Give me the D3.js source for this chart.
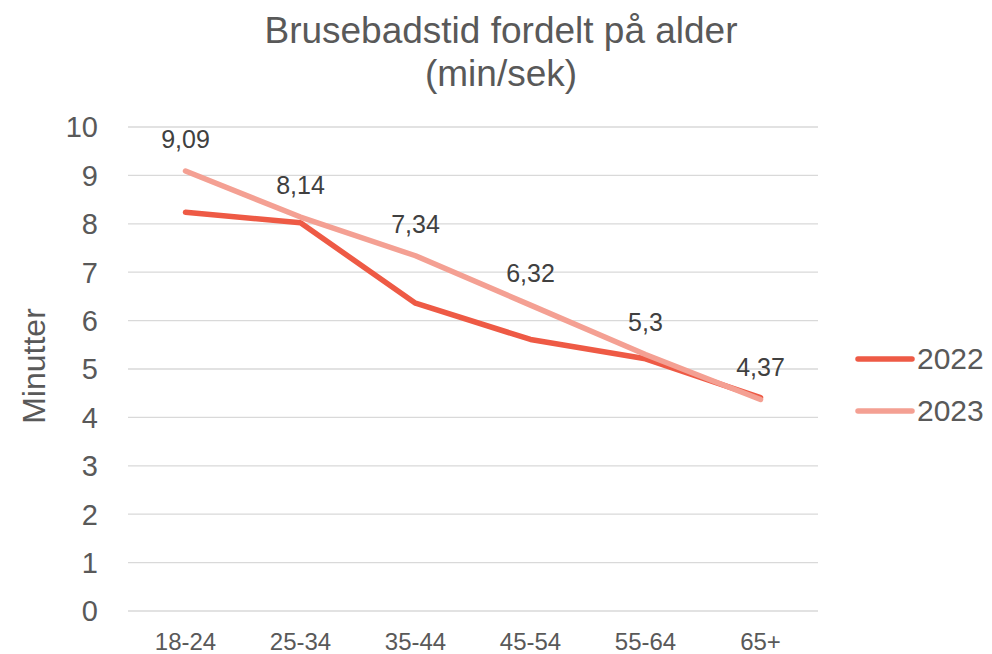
<!DOCTYPE html>
<html>
<head>
<meta charset="utf-8">
<script src="https://cdn.jsdelivr.net/npm/d3@7"></script>
<style>
  body { margin: 0; background: #fff; }
  text { font-family: "Liberation Sans", Arial, sans-serif; }
</style>
</head>
<body>
<svg width="992" height="654"></svg>
<script>
const categories = ["18-24", "25-34", "35-44", "45-54", "55-64", "65+"];
const values2022 = [8.24, 8.02, 6.36, 5.61, 5.21, 4.41];
const values2023 = [9.09, 8.14, 7.34, 6.32, 5.3, 4.37];
const yTicks = [0, 1, 2, 3, 4, 5, 6, 7, 8, 9, 10];

const series = [
  { name: "2022", values: values2022, color: "#EE5A45" },
  { name: "2023", values: values2023, color: "#F4A093" }
];

const svg = d3.select("svg");
const margin = { top: 127, right: 174, bottom: 43, left: 128 };
const w = +svg.attr("width") - margin.left - margin.right;
const h = +svg.attr("height") - margin.top - margin.bottom;

const g = svg.append("g")
  .attr("transform", `translate(${margin.left}, ${margin.top})`);

const x = d3.scalePoint()
  .domain(categories)
  .range([0, w])
  .padding(0.5);

const y = d3.scaleLinear()
  .domain([0, 10])
  .range([h, 0]);

// gridlines
g.append("g")
  .selectAll("line")
  .data(yTicks)
  .join("line")
    .attr("x1", 0)
    .attr("x2", w)
    .attr("y1", d => y(d))
    .attr("y2", d => y(d))
    .attr("stroke", "#d9d9d9")
    .attr("stroke-width", 1.3);

// y tick labels
g.append("g")
  .selectAll("text")
  .data(yTicks)
  .join("text")
    .attr("x", -30)
    .attr("y", d => y(d))
    .attr("dy", "0.36em")
    .attr("text-anchor", "end")
    .attr("font-size", 29)
    .attr("fill", "#595959")
    .text(d => d);

// x labels
g.append("g")
  .selectAll("text")
  .data(categories)
  .join("text")
    .attr("x", d => x(d))
    .attr("y", h + 39)
    .attr("text-anchor", "middle")
    .attr("font-size", 24)
    .attr("fill", "#595959")
    .text(d => d);

// y axis title
svg.append("text")
  .attr("transform", `translate(45, ${margin.top + h / 2 - 3}) rotate(-90)`)
  .attr("text-anchor", "middle")
  .attr("font-size", 32)
  .attr("fill", "#595959")
  .text("Minutter");

// title
const title = svg.append("text")
  .attr("text-anchor", "middle")
  .attr("font-size", 37)
  .attr("fill", "#595959");
title.append("tspan").attr("x", 501).attr("y", 43).text("Brusebadstid fordelt på alder");
title.append("tspan").attr("x", 501).attr("y", 86).text("(min/sek)");

const line = d3.line()
  .x((d, i) => x(categories[i]))
  .y(d => y(d));

g.selectAll(".series")
  .data(series)
  .join("path")
    .attr("class", "series")
    .attr("d", d => line(d.values))
    .attr("fill", "none")
    .attr("stroke", d => d.color)
    .attr("stroke-width", 5.5)
    .attr("stroke-linejoin", "round")
    .attr("stroke-linecap", "round");

// data labels for 2023
g.append("g")
  .selectAll("text")
  .data(values2023)
  .join("text")
    .attr("x", (d, i) => x(categories[i]))
    .attr("y", d => y(d) - 23)
    .attr("text-anchor", "middle")
    .attr("font-size", 25)
    .attr("fill", "#404040")
    .text(d => String(d).replace(".", ","));

// legend
const legend = svg.append("g")
  .attr("transform", `translate(858, 359)`);
legend.selectAll("g")
  .data(series)
  .join("g")
    .attr("transform", (d, i) => `translate(0, ${i * 52})`)
    .call(g => g.append("line")
      .attr("x1", 0).attr("x2", 54)
      .attr("stroke", d => d.color)
      .attr("stroke-width", 5.5)
      .attr("stroke-linecap", "round"))
    .call(g => g.append("text")
      .attr("x", 59)
      .attr("y", 10)
      .attr("font-size", 30)
      .attr("fill", "#595959")
      .text(d => d.name));
</script>
</body>
</html>
